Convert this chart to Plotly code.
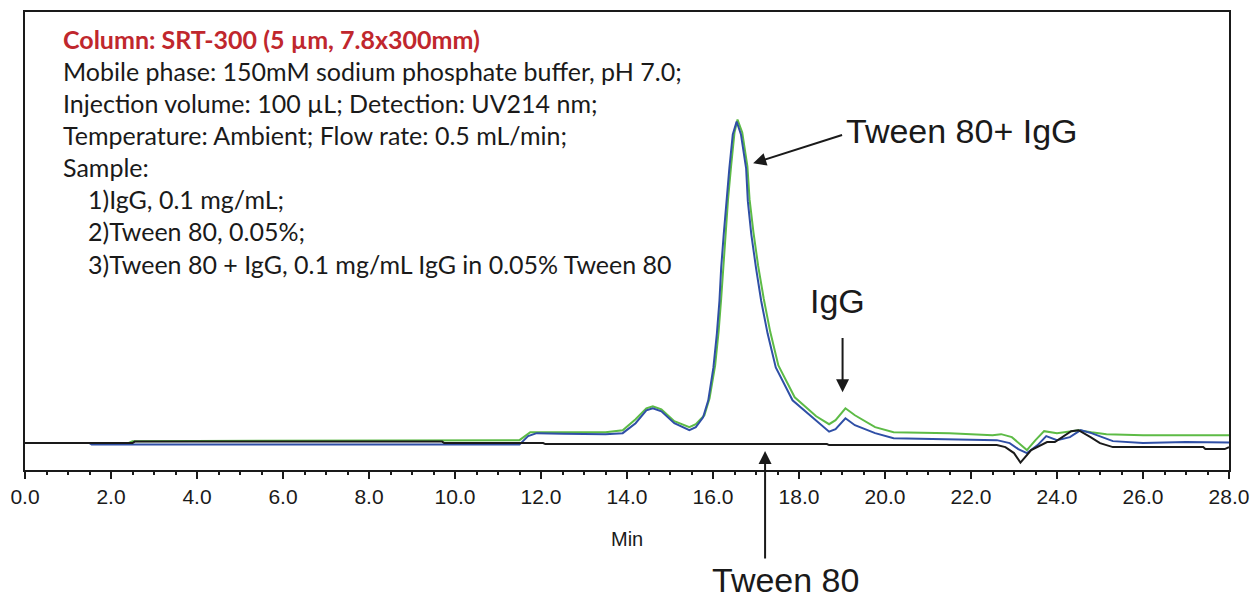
import plotly.graph_objects as go

# ---- data (time in min, signal in arbitrary units) ----
green_t = [0.0, 2.4, 2.5, 10.5, 11.5, 11.75, 12.5, 13.5, 13.9, 14.2, 14.45, 14.6, 14.8, 15.1, 15.45, 15.6,
           15.8, 15.92, 16.05, 16.13, 16.19, 16.24, 16.29, 16.35, 16.42, 16.5, 16.57, 16.68, 16.8, 16.85,
           16.94, 17.05, 17.18, 17.33, 17.52, 17.9, 18.4, 18.7, 18.85, 19.08, 19.3, 19.77, 20.2, 21.5,
           22.5, 22.7, 22.95, 23.3, 23.5, 23.7, 24.0, 24.3, 24.5, 24.8, 25.15, 26.0, 28.0]
green_v = [0, 0, 2, 3, 3, 11, 11, 11, 13, 24, 35, 37, 34, 22, 16, 19,
           28, 45, 78, 112, 145, 178, 212, 245, 278, 312, 325, 312, 278, 245,
           212, 178, 145, 112, 78, 46, 27, 19, 23, 35, 28, 16, 11, 10,
           8, 9, 6, -7, 3, 12, 10, 12, 13, 11, 9, 8, 8]

blue_t = [0.0, 1.5, 1.55, 10.0, 10.5, 11.5, 11.7, 11.9, 12.5, 13.5, 13.9, 14.2, 14.45, 14.6, 14.8, 15.1,
          15.45, 15.6, 15.77, 15.89, 16.01, 16.09, 16.15, 16.19, 16.25, 16.31, 16.38, 16.46, 16.55,
          16.65, 16.77, 16.81, 16.89, 17.0, 17.12, 17.27, 17.46, 17.85, 18.39, 18.7, 18.85, 19.08,
          19.3, 19.77, 20.2, 21.5, 22.6, 22.9, 23.1, 23.3, 23.55, 23.75, 24.0, 24.3, 24.55, 24.8,
          25.0, 25.3, 26.0, 27.0, 28.0]
blue_v = [0, 0, -1.3, -1.3, -2, -1.5, 7, 10, 9.5, 9, 10, 20, 33, 35, 32, 20,
          13, 16, 26, 43, 76, 110, 143, 176, 210, 243, 276, 310, 323,
          310, 276, 243, 210, 176, 143, 110, 76, 43, 23, 11.5, 14, 25,
          18, 10, 5, 4, 3, 0, -6, -10, -2, 7, 3, 6, 13, 10,
          7, 2, 0, 1, 0.5]

black_t = [0.0, 2.5, 2.55, 9.7, 9.75, 12.05, 12.1, 18.65, 18.7, 22.6, 22.8, 23.0, 23.15, 23.4, 23.77,
           23.95, 24.33, 24.5, 24.78, 25.0, 25.3, 27.4, 27.45, 27.9, 28.0]
black_v = [0, 0, 1.5, 1.5, 0, 0, -1, -1, -2, -2, -4, -10, -19.5, -7, 1,
           1, 12, 13, 6, 0, -4, -4, -6, -6, -4]

x_ticks = [0, 2, 4, 6, 8, 10, 12, 14, 16, 18, 20, 22, 24, 26, 28]
x_labels = ["%.1f" % v for v in x_ticks]

info_lines = [
    "Mobile phase: 150mM sodium phosphate buffer, pH 7.0;",
    "Injection volume: 100 µL; Detection: UV214 nm;",
    "Temperature: Ambient; Flow rate: 0.5 mL/min;",
    "Sample:",
]
sample_lines = [
    "1)IgG, 0.1 mg/mL;",
    "2)Tween 80, 0.05%;",
    "3)Tween 80 + IgG, 0.1 mg/mL IgG in 0.05% Tween 80",
]
title_line = "Column: SRT-300 (5 µm, 7.8x300mm)"

# ---- figure ----
fig = go.Figure()
fig.add_trace(go.Scatter(x=green_t, y=green_v, mode="lines", name="IgG",
                         line=dict(color="#5dbb46", width=2)))
fig.add_trace(go.Scatter(x=blue_t, y=blue_v, mode="lines", name="Tween 80 + IgG",
                         line=dict(color="#2f4fa6", width=2)))
fig.add_trace(go.Scatter(x=black_t, y=black_v, mode="lines", name="Tween 80",
                         line=dict(color="#1a1a1a", width=2)))

W, H = 1259, 598
L, R, T, B = 24, 23, 10, 128
YMIN, YMAX = -27, 433
PH = H - T - B


def yv(p):
    # pixel row -> data value
    return YMAX - (p - T) * (YMAX - YMIN) / PH


def yp(p):
    # pixel row -> paper fraction
    return (H - B - p) / PH


def xv(p):
    return (p - L) * 28.0 / (W - L - R)


tf = "Lato"
fs = 25
ann = []
ann.append(dict(x=xv(60), y=yv(37), text="<b>" + title_line + "</b>", showarrow=False,
                xanchor="left", yanchor="middle", font=dict(family=tf, size=fs, color="#c0272d")))
for i, s in enumerate(info_lines):
    ann.append(dict(x=xv(60), y=yv(69 + i * 32.3), text=s, showarrow=False,
                    xanchor="left", yanchor="middle", font=dict(family=tf, size=fs, color="#1a1a1a")))
for i, s in enumerate(sample_lines):
    ann.append(dict(x=xv(85), y=yv(198 + i * 32.3), text=s, showarrow=False,
                    xanchor="left", yanchor="middle", font=dict(family=tf, size=fs, color="#1a1a1a")))

af = dict(family="Liberation Sans, Arial", size=34, color="#1a1a1a")
ann.append(dict(x=xv(848), y=yv(130), text="Tween 80+ IgG", showarrow=False,
                xanchor="left", yanchor="middle", font=af))
ann.append(dict(x=xv(842), y=yv(300), text="IgG", showarrow=False,
                xanchor="center", yanchor="middle", font=af))
ann.append(dict(x=xv(790), xref="x", y=yp(580), yref="paper", text="Tween 80", showarrow=False,
                xanchor="center", yanchor="middle", font=af))
ann.append(dict(x=xv(630), xref="x", y=yp(539), yref="paper", text="Min", showarrow=False,
                xanchor="center", yanchor="middle",
                font=dict(family="Liberation Sans, Arial", size=20, color="#1a1a1a")))

# arrows
ann.append(dict(x=xv(757), y=yv(162), ax=xv(848), ay=yv(133), axref="x", ayref="y",
                xref="x", yref="y", text="", showarrow=True, arrowhead=2,
                arrowsize=1.3, arrowwidth=2, arrowcolor="#1a1a1a"))
ann.append(dict(x=xv(847), y=yv(392), ax=xv(847), ay=yv(336), axref="x", ayref="y",
                xref="x", yref="y", text="", showarrow=True, arrowhead=2,
                arrowsize=1.3, arrowwidth=2, arrowcolor="#1a1a1a"))
ann.append(dict(x=xv(769), y=yv(451), ax=0, ay=560 - 451, axref="pixel", ayref="pixel",
                xref="x", yref="y", text="", showarrow=True, arrowhead=2,
                arrowsize=1.3, arrowwidth=2, arrowcolor="#1a1a1a"))

fig.update_layout(
    width=W, height=H,
    margin=dict(l=L, r=R, t=T, b=B),
    paper_bgcolor="white", plot_bgcolor="white",
    showlegend=False,
    annotations=ann,
    xaxis=dict(range=[0, 28], tickvals=x_ticks, ticktext=x_labels, showgrid=False, zeroline=False,
               showline=True, linecolor="#1a1a1a", linewidth=2, mirror=True,
               ticks="outside", ticklen=7, tickwidth=2, tickcolor="#1a1a1a",
               tickfont=dict(family="Liberation Sans, Arial", size=21, color="#1a1a1a"),
               minor=dict(dtick=0.5, ticks="outside", ticklen=3, tickwidth=2, tickcolor="#1a1a1a")),
    yaxis=dict(range=[YMIN, YMAX], showgrid=False, zeroline=False, showticklabels=False,
               showline=True, linecolor="#1a1a1a", linewidth=2, mirror=True, ticks=""),
)

fig.write_html("out.html", config={"displayModeBar": False},
               post_script="document.body.style.margin='0';")
